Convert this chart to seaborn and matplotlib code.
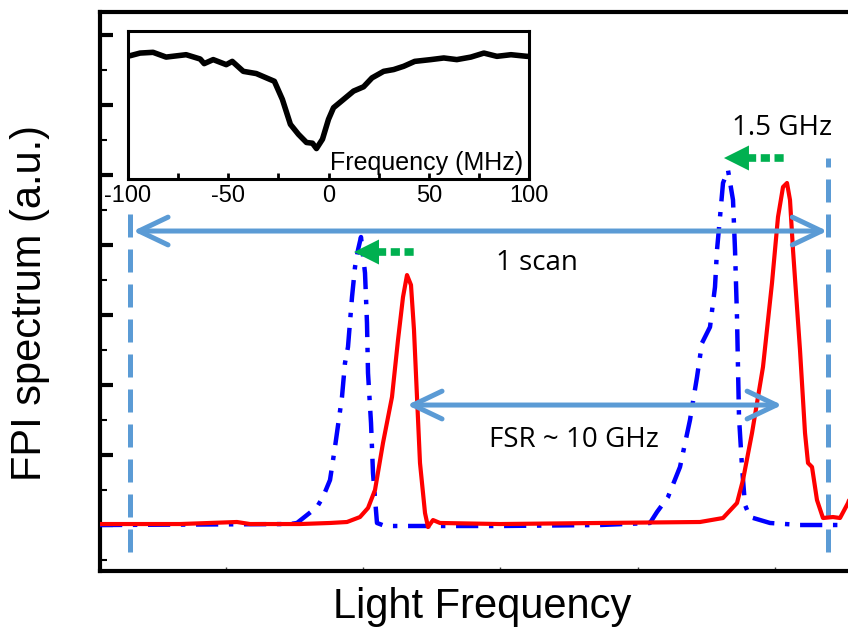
import matplotlib
matplotlib.use("Agg")
import matplotlib.pyplot as plt
from matplotlib.patches import ArrowStyle
import seaborn as sns
import numpy as np

# ---------------- data ----------------
# main spectra (x: GHz, y: arbitrary units)
red_x = [0.0, 2.105, 3.605, 3.947, 5.263, 6.053, 6.5, 6.842, 7.053, 7.237, 7.447, 7.684,
         7.842, 7.974, 8.079, 8.184, 8.263, 8.342, 8.421, 8.553, 8.632, 8.763, 8.947,
         10.526, 13.158, 15.789, 16.395, 16.763, 16.921, 17.158, 17.447, 17.684, 17.842,
         17.974, 18.079, 18.158, 18.237, 18.421, 18.553, 18.632, 18.737, 18.868, 19.026,
         19.289, 19.474, 19.684, 20.0]
red_y = [0.014, 0.014, 0.043, 0.014, 0.014, 0.029, 0.043, 0.114, 0.243, 0.5, 1.171, 1.829,
         2.643, 3.257, 3.571, 3.429, 2.786, 1.829, 0.886, 0.171, -0.029, 0.071, 0.029,
         0.014, 0.029, 0.043, 0.1, 0.314, 0.643, 1.314, 2.257, 3.457, 4.4,
         4.829, 4.886, 4.643, 3.929, 2.5, 1.314, 0.886, 0.829, 0.357, 0.1,
         0.114, 0.1, 0.314, 0.786]

blue_x = [0.0, 5.0, 5.184, 5.711, 5.868, 6.053, 6.184, 6.368, 6.447, 6.526, 6.632, 6.711,
          6.789, 6.868, 6.974, 7.026, 7.053, 7.132, 7.184, 7.289, 7.5, 10.526, 13.158,
          14.474, 14.658, 14.947, 15.263, 15.526, 15.711, 15.842, 16.053, 16.184, 16.237,
          16.316, 16.395, 16.526, 16.658, 16.711, 16.763, 16.789, 16.816, 16.895, 16.974,
          17.105, 17.632, 18.421, 20.0]
blue_y = [0.0, 0.014, 0.029, 0.257, 0.4, 0.643, 1.114, 1.829, 2.314, 2.543, 3.257, 3.686,
          3.929, 4.114, 3.6, 2.886, 2.171, 1.457, 0.743, 0.029, -0.014, -0.014, 0.0,
          0.029, 0.186, 0.4, 0.829, 1.5, 2.114, 2.6, 2.829, 3.4, 3.929,
          4.4, 4.886, 5.071, 4.643, 3.929, 2.971, 2.257, 1.543, 0.829, 0.286,
          0.114, 0.029, 0.0, 0.0]

# inset: frequency (MHz) vs transmission (a.u.)
inset_x = [-100, -99, -94, -87.5, -81, -71, -64, -62, -57.5, -51, -48, -42.5, -36, -31, -27,
           -23, -19, -15, -11, -8, -6, -3, 0, 2.5, 7.5, 12.5, 17.5, 21.7, 27.5, 32.5,
           37.5, 43, 51, 57.5, 64, 71, 77.5, 84, 91, 99, 100]
inset_y = [0.83, 0.830, 0.848, 0.853, 0.821, 0.837, 0.808, 0.777, 0.804, 0.770, 0.792,
           0.725, 0.710, 0.681, 0.658, 0.536, 0.368, 0.301, 0.246, 0.241, 0.205, 0.268,
           0.402, 0.480, 0.536, 0.592, 0.621, 0.681, 0.725, 0.737, 0.759, 0.792, 0.804,
           0.815, 0.804, 0.821, 0.848, 0.826, 0.837, 0.826, 0.826]
inset_ticks = [-100, -50, 0, 50, 100]
inset_minor = [-75, -25, 25, 75]

# markers / annotations (GHz positions, a.u. heights)
scan_edges = [0.80, 19.16]          # vertical dashed lines
scan_arrow = (0.87, 19.14, 4.2)     # x0, x1, y
fsr_arrow = (8.08, 17.95, 1.714)
shift_left = (6.684, 8.289, 3.9)    # tip, tail, y
shift_right = (16.42, 18.03, 5.243)

# ---------------- style ----------------
sns.set_style("ticks")
plt.rcParams["font.family"] = ["Liberation Sans", "DejaVu Sans"]
plt.rcParams["text.color"] = "black"
plt.rcParams["axes.labelcolor"] = "black"
plt.rcParams["xtick.color"] = "black"
plt.rcParams["ytick.color"] = "black"
plt.rcParams["xtick.labelcolor"] = "black"

LB = "#5B9BD5"
GREEN = "#00B050"
PX = 38.0  # pixels per GHz (for head offsets)

fig = plt.figure(figsize=(8.48, 6.34), dpi=100)
ax = fig.add_axes([100 / 848, 1 - 571 / 634, 760 / 848, 559 / 634])

sns.lineplot(x=blue_x, y=blue_y, ax=ax, color="#0000FF", lw=3.2, sort=False, zorder=3)
ax.lines[-1].set_dashes([5.0, 2.4, 1.0, 2.4])
sns.lineplot(x=red_x, y=red_y, ax=ax, color="#FF0000", lw=3, sort=False, zorder=4)

ax.set_xlim(0, 20)
ax.set_ylim(-0.657, 7.329)

# vertical dashed scan boundaries
ax.plot([scan_edges[0]] * 2, [-0.386, 4.53], color=LB, lw=3.6, dashes=[4.6, 2.4], zorder=2)
ax.plot([scan_edges[1]] * 2, [-0.386, 5.24], color=LB, lw=3.6, dashes=[4.6, 2.4], zorder=2)

# double arrows
for (x0, x1, y) in [scan_arrow, fsr_arrow]:
    ax.annotate("", xy=(x1, y), xytext=(x0, y),
                arrowprops=dict(arrowstyle=ArrowStyle("<->", head_length=21, head_width=10),
                                color=LB, lw=3.6, shrinkA=0, shrinkB=0, mutation_scale=1),
                zorder=6)

# green shift arrows
for (tip, tail, y) in [shift_left, shift_right]:
    base = tip + 25 / PX
    ax.plot([base - 0.05, tail], [y, y], color=GREEN, lw=5.5, dashes=[1.2, 0.6],
            solid_capstyle="butt", zorder=7)
    ax.annotate("", xy=(tip, y), xytext=(base, y),
                arrowprops=dict(arrowstyle=ArrowStyle("-|>", head_length=18, head_width=9),
                                color=GREEN, lw=0, shrinkA=0, shrinkB=0, mutation_scale=1),
                zorder=7)

tfont = ["Open Sans", "DejaVu Sans"]
ax.text(11.51, 3.643, "1 scan", fontsize=20, family=tfont, ha="center", va="baseline",
        color="black")
ax.text(12.46, 1.118, "FSR ~ 10 GHz", fontsize=20, family=tfont, ha="center", va="baseline",
        color="black")
ax.text(17.95, 5.571, "1.5 GHz", fontsize=20, family=tfont, ha="center", va="baseline",
        color="black")

# axes decoration
ax.set_yticks(range(0, 8))
ax.set_yticks(np.arange(-0.5, 7.0, 1.0), minor=True)
ax.set_xticks([3.32, 6.92, 10.53, 14.16, 17.76])
ax.set_xticklabels([])
ax.set_yticklabels([])
ax.tick_params(axis="y", which="major", direction="in", length=9, width=3, color="black")
ax.tick_params(axis="y", which="minor", direction="in", length=5, width=1.5, color="black")
ax.tick_params(axis="x", which="major", direction="in", length=3, width=1, color="#444444")
for s in ax.spines.values():
    s.set_linewidth(3)
    s.set_color("black")

ax.set_xlabel("Light Frequency", fontsize=30, color="black")
ax.set_ylabel("FPI spectrum (a.u.)", fontsize=30, color="black")
ax.xaxis.set_label_coords(0.503, -0.028)
ax.xaxis.label.set_va("top")
ax.yaxis.set_label_coords(-0.066, 0.48)

# ---------------- inset ----------------
axin = fig.add_axes([128 / 848, 1 - 179 / 634, 401 / 848, 148.5 / 634])
axin.set_facecolor("white")
sns.lineplot(x=inset_x, y=inset_y, ax=axin, color="black", lw=4, sort=False)
axin.set_xlim(-100, 100)
axin.set_ylim(0, 1)
axin.set_xticks(inset_ticks)
axin.set_xticks(inset_minor, minor=True)
axin.set_xticklabels([str(t) for t in inset_ticks], fontsize=17, color="black")
axin.set_yticks([])
axin.tick_params(axis="x", which="both", direction="in", length=4, width=2, pad=4,
                 color="black", labelcolor="black")
for s in axin.spines.values():
    s.set_linewidth(2.2)
    s.set_color("black")
axin.set_xlabel("")
axin.set_ylabel("")
axin.text(0.985, 0.06, "Frequency (MHz)", fontsize=18, ha="right", va="baseline",
          transform=axin.transAxes, color="black")

fig.savefig("out.png", dpi=100)
